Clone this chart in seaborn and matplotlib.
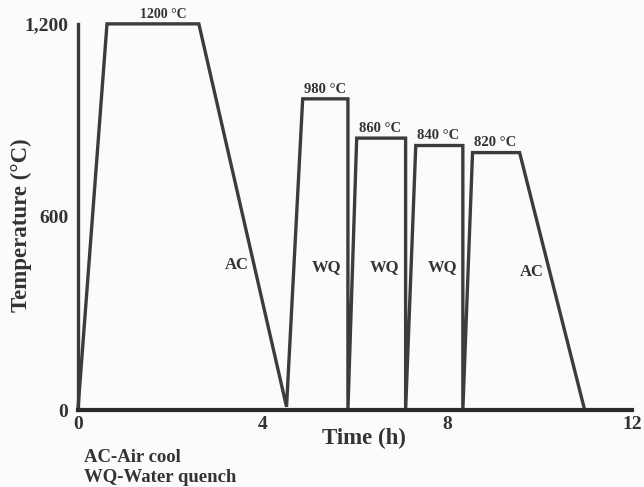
import matplotlib
matplotlib.use("Agg")
import matplotlib.pyplot as plt
import seaborn as sns
import pandas as pd
from matplotlib.ticker import MultipleLocator, FixedLocator

# Heat-treatment schedule
time_h = [0.0, 0.63, 2.62, 4.52, 4.87, 5.85, 5.85, 6.04, 7.10, 7.10, 7.32, 8.34, 8.34, 8.55, 9.57, 10.98]
temp_c = [0, 1200, 1200, 10, 967, 967, 0, 845, 845, 0, 822, 822, 0, 800, 800, 0]

plateau_labels = ["1200 °C", "980 °C", "860 °C", "840 °C", "820 °C"]
plateau_x = [1.85, 5.35, 6.55, 7.80, 9.03]
plateau_y = [1200, 967, 845, 822, 800]

cool_labels = ["AC", "WQ", "WQ", "WQ", "AC"]
cool_x = [3.45, 5.39, 6.65, 7.90, 9.83]
cool_y = [451, 445, 445, 445, 429]

y_ticks = [0, 600, 1200]
y_ticklabels = ["0", "600", "1,200"]
x_ticks = [0, 4, 8, 12]
x_ticklabels = ["0", "4", "8", "12"]

df = pd.DataFrame({"time": time_h, "temp": temp_c})

sns.set_theme(style="white")
plt.rcParams["font.family"] = ["Liberation Serif", "DejaVu Serif"]
plt.rcParams["font.weight"] = "bold"

txt = "#333333"
fig = plt.figure(figsize=(6.44, 4.87), dpi=100, facecolor="#fbfbfb")
ax = fig.add_axes([0.121, 0.158, 0.860, 0.793])
ax.set_facecolor("#fbfbfb")

line_col = "#3c3c3c"
sns.lineplot(data=df, x="time", y="temp", sort=False, estimator=None,
             color=line_col, linewidth=2.4, ax=ax, clip_on=False,
             solid_joinstyle="miter")

ax.set_xlim(0, 12)
ax.set_ylim(0, 1200)

for s in ["top", "right"]:
    ax.spines[s].set_visible(False)
ax.spines["bottom"].set_color("#2a2a2a")
ax.spines["bottom"].set_linewidth(3.0)
ax.spines["left"].set_color("#3a3a3a")
ax.spines["left"].set_linewidth(2.4)

ax.yaxis.set_major_locator(FixedLocator(y_ticks))
ax.set_yticklabels(y_ticklabels, fontsize=14, fontweight="bold", color=txt)
ax.yaxis.set_minor_locator(MultipleLocator(100))
ax.xaxis.set_major_locator(FixedLocator(x_ticks))
ax.set_xticklabels(x_ticklabels, fontsize=14, fontweight="bold", color=txt)
ax.xaxis.set_minor_locator(MultipleLocator(1))
ax.tick_params(axis="y", which="major", direction="out", length=5, width=1.2, colors="#444444", pad=2, labelcolor=txt)
ax.tick_params(axis="y", which="minor", direction="in", length=4, width=1.0, colors="#666666")
ax.tick_params(axis="x", which="major", direction="in", length=5, width=1.2, colors="#444444", pad=4, labelcolor=txt)
ax.tick_params(axis="x", which="minor", direction="in", length=4, width=1.0, colors="#666666")

ax.set_xlabel("")
ax.set_ylabel("")
fig.text(0.0326, 0.538, "Temperature (°C)", rotation=90, fontsize=16.5, fontweight="bold",
         color=txt, ha="center", va="center")
fig.text(0.565, 0.1006, "Time (h)", fontsize=16.5, fontweight="bold",
         color=txt, ha="center", va="center")

for lab, x, y in zip(plateau_labels, plateau_x, plateau_y):
    fs = 10 if lab.startswith("1200") else 10.5
    ax.text(x, y + 10, lab, fontsize=fs, fontweight="bold", color=txt,
            ha="center", va="bottom", clip_on=False)

for lab, x, y in zip(cool_labels, cool_x, cool_y):
    ax.text(x, y, lab, fontsize=12, fontweight="bold", color=txt,
            ha="center", va="center")

fig.text(0.130, 1 - 458 / 487, "AC-Air cool", fontsize=13.5, fontweight="bold", color=txt, va="center")
fig.text(0.130, 1 - 478 / 487, "WQ-Water quench", fontsize=13.5, fontweight="bold", color=txt, va="center")

fig.savefig("out.png", dpi=100, facecolor=fig.get_facecolor())
